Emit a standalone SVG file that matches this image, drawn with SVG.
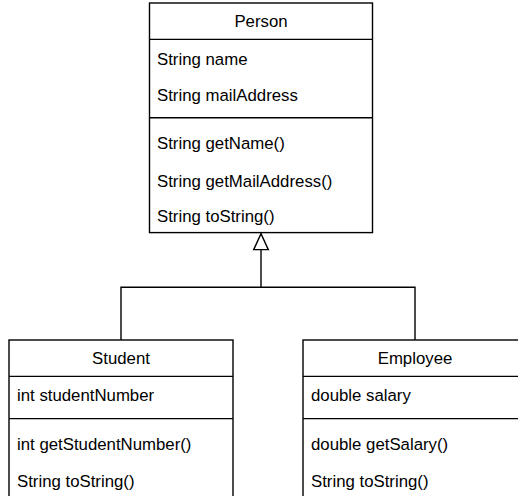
<svg xmlns="http://www.w3.org/2000/svg" width="518" height="496" viewBox="0 0 518 496">
<style>
.box{fill:#ffffff;stroke:#000000;stroke-width:1.4}
.sep{stroke:#000000;stroke-width:1.4;fill:none}
.t{font-family:"Liberation Sans",Arial,Helvetica,sans-serif;font-size:16.8px;fill:#000000}
.c{text-anchor:middle}
.edge{stroke:#000000;stroke-width:1.4;fill:none}
</style>
<defs>
<marker id="inh" markerUnits="userSpaceOnUse" markerWidth="20" markerHeight="20" viewBox="0 0 20 20" refX="17" refY="10" orient="auto">
<path d="M1,2.7 L17,10 L1,17.3 Z" fill="#ffffff" stroke="#000000" stroke-width="1.4"/>
</marker>
</defs>
<g id="connectors">
<path class="edge" d="M121,340 V287.3 H415 V340"/>
<path class="edge" d="M261,287.3 V233.6" marker-end="url(#inh)"/>
</g>
<g id="Person">
<rect class="box" x="149.5" y="3" width="223" height="229.6"/>
<line class="sep" x1="149.5" y1="39.4" x2="372.5" y2="39.4"/>
<line class="sep" x1="149.5" y1="117.8" x2="372.5" y2="117.8"/>
<text class="t c" x="261" y="27">Person</text>
<text class="t" x="157" y="65">String name</text>
<text class="t" x="157" y="100.5">String mailAddress</text>
<text class="t" x="157" y="149">String getName()</text>
<text class="t" x="157" y="186.5">String getMailAddress()</text>
<text class="t" x="157" y="222">String toString()</text>
</g>
<g id="Student">
<rect class="box" x="9" y="340" width="224" height="160"/>
<line class="sep" x1="9" y1="376.4" x2="233" y2="376.4"/>
<line class="sep" x1="9" y1="418.6" x2="233" y2="418.6"/>
<text class="t c" x="121" y="364">Student</text>
<text class="t" x="17" y="401">int studentNumber</text>
<text class="t" x="17" y="449.5">int getStudentNumber()</text>
<text class="t" x="17" y="486.5">String toString()</text>
</g>
<g id="Employee">
<rect class="box" x="303" y="340" width="224" height="160"/>
<line class="sep" x1="303" y1="376.4" x2="527" y2="376.4"/>
<line class="sep" x1="303" y1="418.6" x2="527" y2="418.6"/>
<text class="t c" x="415" y="364">Employee</text>
<text class="t" x="311" y="401">double salary</text>
<text class="t" x="311" y="449.5">double getSalary()</text>
<text class="t" x="311" y="486.5">String toString()</text>
</g>
</svg>
